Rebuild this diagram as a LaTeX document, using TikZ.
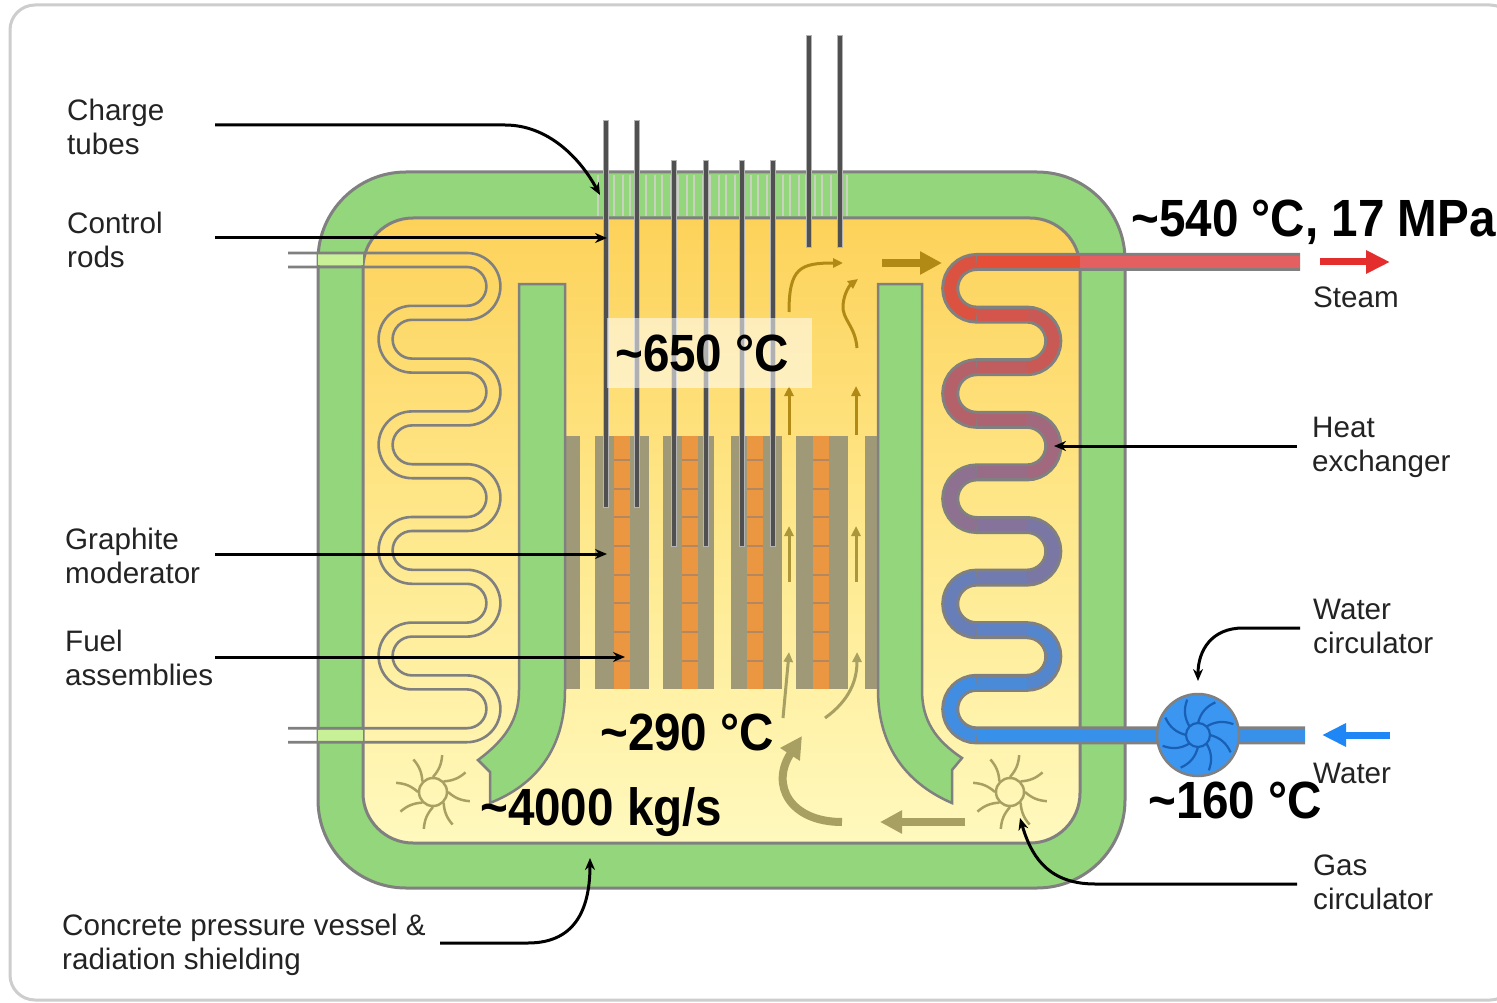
\documentclass[tikz,border=0pt]{standalone}
\usepackage{fontspec}
\setmainfont{Liberation Sans}
\usetikzlibrary{arrows.meta}
\definecolor{vgreen}{RGB}{148,214,124}
\definecolor{vline}{RGB}{128,128,128}
\definecolor{lgreen}{RGB}{200,240,150}
\definecolor{ytop}{RGB}{253,210,90}
\definecolor{ymid}{RGB}{254,232,140}
\definecolor{ybot}{RGB}{255,249,190}
\definecolor{graph}{RGB}{160,153,120}
\definecolor{fuel}{RGB}{235,150,65}
\definecolor{fueldiv}{RGB}{180,135,95}
\definecolor{rod}{RGB}{80,80,80}
\definecolor{rodedge}{RGB}{180,180,180}
\definecolor{goldA}{RGB}{176,138,20}
\definecolor{goldB}{RGB}{172,150,60}
\definecolor{olive}{RGB}{168,160,98}
\definecolor{hot}{RGB}{230,78,55}
\definecolor{hotout}{RGB}{228,95,95}
\definecolor{cold}{RGB}{55,145,235}
\definecolor{pumpfill}{RGB}{58,150,240}
\definecolor{pumpblade}{RGB}{25,95,180}
\definecolor{steamarrow}{RGB}{228,45,45}
\definecolor{waterarrow}{RGB}{30,135,245}
\definecolor{framegray}{RGB}{205,205,205}
\definecolor{labeltext}{RGB}{35,35,35}
\definecolor{stripec}{RGB}{200,210,190}
\newcommand{\tallbold}[1]{\scalebox{1}[1.1]{#1}}
\tikzset{
  leader/.style={draw=black, line width=3pt, -{Stealth[length=12pt,width=10pt]}},
  lbl/.style={anchor=base west, align=left, inner sep=0pt, font=\fontsize{29.6}{34}\selectfont, text=labeltext},
  big/.style={anchor=base west, inner sep=0pt, font=\fontsize{47.6}{52}\selectfont\bfseries, text=black},
  hxwall/.style={draw=vline, line width=2.6pt},
  wallline/.style={draw=vline, line width=3pt},
  stripe/.style={draw=stripec, line width=2.2pt},
  rodedgeS/.style={draw=rodedge, line width=6.5pt},
  rodcore/.style={draw=rod, line width=4pt},
  garrow/.style={line width=3pt, -{Triangle[length=10pt,width=9pt]}},
  bigarrow/.style={line width=8pt, -{Triangle[length=22pt,width=22pt]}},
  fanray/.style={draw=olive, line width=2.5pt},
  blade/.style={draw=pumpblade, line width=2.2pt}
}
\begin{document}
\begin{tikzpicture}[x=1pt,y=-1pt]
\useasboundingbox (0,0) rectangle (1497,1003);
\fill[white] (0,0) rectangle (1497,1003);
\draw[framegray, line width=3pt, rounded corners=25pt] (10,5) rectangle (1515,1000);

% concrete vessel and cavity
\draw[wallline, fill=vgreen, rounded corners=88pt] (318,172) rectangle (1125,888);
\draw[wallline, top color=ytop, bottom color=ybot, middle color=ymid, rounded corners=50pt] (363,218) rectangle (1080,843);

% charge tube stripes in top wall
\foreach \k in {0,...,15} {
  \draw[stripe] ({598+16*\k},175) -- ({598+16*\k},216);
  \draw[stripe] ({607+16*\k},175) -- ({607+16*\k},216);
}

% core: graphite columns and fuel
\foreach \a/\b in {566/580,595/649,663/714,731/782,796/848,865/877}
  \fill[graph] (\a,436) rectangle (\b,689);
\foreach \a in {614,682,747,813}
  \fill[fuel] (\a,436) rectangle ({\a+16},689);
\foreach \y in {460,488.5,517,546,574.5,603,632,661}
  \foreach \a in {614,682,747,813}
    \draw[fueldiv, line width=2pt] (\a,\y) -- ++(16,0);

% baffles
\draw[wallline, line width=2.5pt, fill=vgreen] (519,284) -- (565,284) -- (565,690)
  .. controls (565,750) and (535,785) .. (490,803) -- (490,772) -- (478,760)
  .. controls (505,740) and (519,720) .. (519,690) -- cycle;
\draw[wallline, line width=2.5pt, fill=vgreen] (878,284) -- (922,284) -- (922,690)
  .. controls (922,720) and (935,740) .. (962,758) -- (952,770) -- (952,803)
  .. controls (910,785) and (878,750) .. (878,690) -- cycle;

% left heat exchanger (hollow pipe)
\fill[lgreen] (318,254.5) rectangle (363,265.5);
\fill[lgreen] (318,729.6) rectangle (363,740.8);
\draw[hxwall] (288,253) -- (467,253)
  arc[start angle=-90,end angle=90,radius=33.4] -- (412,319.8)
  arc[start angle=270,end angle=90,radius=19.4] -- (467,358.6)
  arc[start angle=-90,end angle=90,radius=33.4] -- (412,425.4)
  arc[start angle=270,end angle=90,radius=19.4] -- (467,464.2)
  arc[start angle=-90,end angle=90,radius=33.4] -- (412,531)
  arc[start angle=270,end angle=90,radius=19.4] -- (467,569.8)
  arc[start angle=-90,end angle=90,radius=33.4] -- (412,636.6)
  arc[start angle=270,end angle=90,radius=19.4] -- (467,675.4)
  arc[start angle=-90,end angle=90,radius=33.4] -- (288,742.2);
\draw[hxwall] (288,267) -- (467,267)
  arc[start angle=-90,end angle=90,radius=19.4] -- (412,305.8)
  arc[start angle=270,end angle=90,radius=33.4] -- (467,372.6)
  arc[start angle=-90,end angle=90,radius=19.4] -- (412,411.4)
  arc[start angle=270,end angle=90,radius=33.4] -- (467,478.2)
  arc[start angle=-90,end angle=90,radius=19.4] -- (412,517)
  arc[start angle=270,end angle=90,radius=33.4] -- (467,583.8)
  arc[start angle=-90,end angle=90,radius=19.4] -- (412,622.6)
  arc[start angle=270,end angle=90,radius=33.4] -- (467,689.4)
  arc[start angle=-90,end angle=90,radius=19.4] -- (288,728.2);

% right heat exchanger (coloured pipe)
\draw[line width=18pt, draw=vline] (1300,262) -- (976.5,262)
  arc[start angle=270,end angle=90,radius=26.3] -- (1027,314.6)
  arc[start angle=-90,end angle=90,radius=26.3] -- (976.5,367.2)
  arc[start angle=270,end angle=90,radius=26.3] -- (1027,419.8)
  arc[start angle=-90,end angle=90,radius=26.3] -- (976.5,472.4)
  arc[start angle=270,end angle=90,radius=26.3] -- (1027,525)
  arc[start angle=-90,end angle=90,radius=26.3] -- (976.5,577.6)
  arc[start angle=270,end angle=90,radius=26.3] -- (1027,630.2)
  arc[start angle=-90,end angle=90,radius=26.3] -- (976.5,682.8)
  arc[start angle=270,end angle=90,radius=26.3] -- (1305,735.4);
\draw[line width=12pt, draw=hot] (976.5,262) -- (1080,262);
\draw[line width=12pt, draw=hotout] (1080,262) -- (1300,262);
\foreach \k in {1,...,8} {
  \pgfmathsetmacro{\p}{100-100*\k/9}
  \pgfmathsetmacro{\yy}{262+52.6*\k}
  \draw[line width=12pt, draw=hot!\p!cold] (976.5,\yy) -- (1027,\yy);
}
\foreach \k in {0,...,8} {
  \pgfmathsetmacro{\p}{100-100*(\k+0.5)/9}
  \pgfmathsetmacro{\yy}{262+52.6*\k}
  \ifodd\k
    \draw[line width=12pt, draw=hot!\p!cold] (1027,\yy) arc[start angle=-90,end angle=90,radius=26.3];
  \else
    \draw[line width=12pt, draw=hot!\p!cold] (976.5,\yy) arc[start angle=270,end angle=90,radius=26.3];
  \fi
}
\draw[line width=12pt, draw=cold] (976.5,735.4) -- (1305,735.4);

% water circulator
\coordinate (pump) at (1198,735);
\draw[vline, line width=2.5pt, fill=pumpfill] (pump) circle[radius=41];
\draw[blade] (pump) circle[radius=12];
\foreach \a in {0,45,...,315}
  \draw[blade, shift={(1198,735)}] (\a:12) to[bend left=25] ({\a+28}:37);

% gas flow arrows
\draw[goldA, bigarrow] (882,263) -- (942,263);
\draw[goldA, garrow] (789,312) .. controls (789,268) and (800,263) .. (843,263);
\draw[goldA, garrow] (857,348) .. controls (855,325) and (842,320) .. (843,305)
  .. controls (844,293) and (850,285) .. (858,279);
\draw[goldA, garrow] (789,435) -- (789,386);
\draw[goldA, garrow] (856,435) -- (856,386);
\draw[goldB, garrow] (789,582) -- (789,526);
\draw[goldB, garrow] (856,582) -- (856,526);
\draw[olive, garrow] (783,718) .. controls (786,690) .. (789,652);
\draw[olive, garrow] (825,718) .. controls (850,700) and (857,680) .. (857,652);
\draw[olive, bigarrow] (842,822) .. controls (790,822) and (770,785) .. (802,736);
\draw[olive, bigarrow] (965,822) -- (880,822);

% rods and charge tubes
\foreach \x/\t/\b in {606/120/508,637/120/508,674/160/547,706/160/547,742/160/547,773/160/547,809/35/248,840/35/248} {
  \draw[rodedgeS] (\x,\t) -- (\x,\b);
  \draw[rodcore] (\x,{\t+1}) -- (\x,{\b-1});
}

% gas circulators
\coordinate (fanL) at (433,792);
\coordinate (fanR) at (1010,792);
\foreach \c in {433,1010} {
  \draw[fanray] (\c,792) circle[radius=14];
  \foreach \a in {0,45,...,315}
    \draw[fanray, shift={(\c,792)}] (\a:15) to[bend right=18] ({\a+14}:38);
}

% temperature box and bold labels
\fill[white, opacity=0.55] (607,318) rectangle (812,388);
\node[big] (t650) at (615,371) {\tallbold{\textasciitilde 650 °C}};
\node[big] (t290) at (600,750) {\tallbold{\textasciitilde 290 °C}};
\node[big] (t4000) at (480,825) {\tallbold{\textasciitilde 4000 kg/s}};
\node[big] (t160) at (1148,818) {\tallbold{\textasciitilde 160 °C}};
\node[big, anchor=base east] (t540) at (1496,237) {\tallbold{\textasciitilde 540 °C, 17 MPa}};

% outside flow arrows
\draw[steamarrow, line width=7pt, -{Triangle[length=24pt,width=22pt]}] (1320,262) -- (1390,262);
\draw[waterarrow, line width=7pt, -{Triangle[length=24pt,width=22pt]}] (1390,735) -- (1322,735);

% labels (base anchor = baseline of last line)
\node[lbl] (lCharge) at (67,155) {Charge\\tubes};
\node[lbl] (lControl) at (67,267) {Control\\rods};
\node[lbl] (lGraph) at (65,583) {Graphite\\moderator};
\node[lbl] (lFuel) at (65,685) {Fuel\\assemblies};
\node[lbl] (lConc) at (62,969) {Concrete pressure vessel \&\\radiation shielding};
\node[lbl] (lSteam) at (1313,307) {Steam};
\node[lbl] (lHeat) at (1312,471) {Heat\\exchanger};
\node[lbl] (lWC) at (1313,653) {Water\\circulator};
\node[lbl] (lWater) at (1313,783) {Water};
\node[lbl] (lGas) at (1313,909) {Gas\\circulator};

% leader lines
\coordinate (sCharge) at (215,125);   \coordinate (eCharge) at (600,195);
\coordinate (sControl) at (215,238);  \coordinate (eControl) at (607,238);
\coordinate (sGraph) at (215,554);    \coordinate (eGraph) at (607,554);
\coordinate (sFuel) at (215,657);     \coordinate (eFuel) at (625,657);
\coordinate (sConc) at (440,943);     \coordinate (eConc) at (590,858);
\coordinate (sHeat) at (1297,446);    \coordinate (eHeat) at (1054,446);
\coordinate (sWC) at (1300,628);      \coordinate (eWC) at (1198,681);
\coordinate (sGas) at (1297,884);     \coordinate (eGas) at (1020,818);
\draw[leader] (sCharge) -- (505,125) .. controls (548,125) and (580,158) .. (eCharge);
\draw[leader] (sControl) -- (eControl);
\draw[leader] (sGraph) -- (eGraph);
\draw[leader] (sFuel) -- (eFuel);
\draw[leader] (sConc) -- (528,943) .. controls (578,943) and (590,905) .. (eConc);
\draw[leader] (sHeat) -- (eHeat);
\draw[leader] (sWC) -- (1243,628) .. controls (1212,628) and (1198,650) .. (eWC);
\draw[leader] (sGas) -- (1095,884) .. controls (1045,884) and (1030,852) .. (eGas);
\end{tikzpicture}
\end{document}
